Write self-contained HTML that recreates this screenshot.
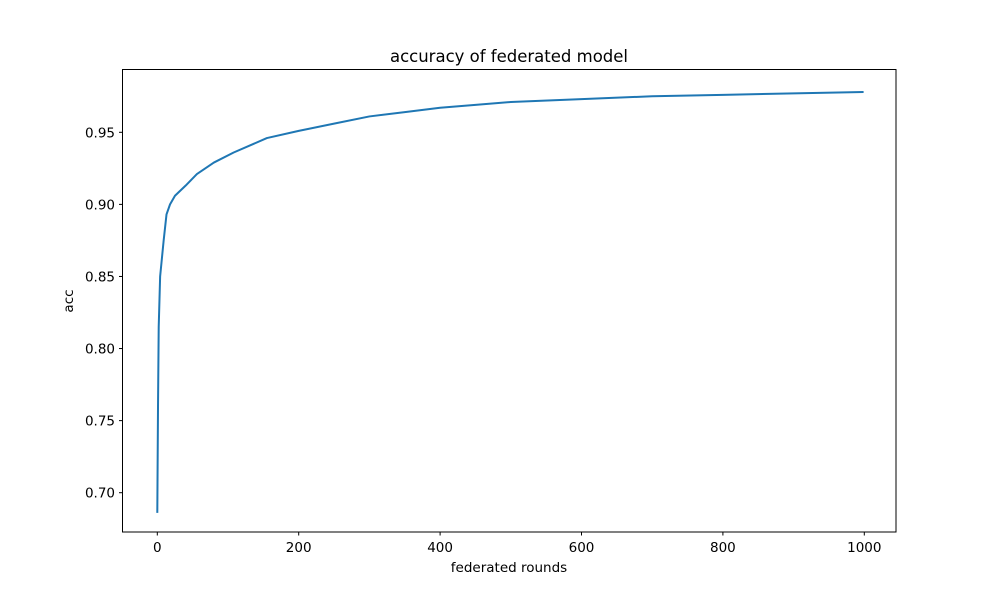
<!DOCTYPE html>
<html><head><meta charset="utf-8"><style>
body{margin:0;background:#fff;}
svg text{font-family:"DejaVu Sans","Liberation Sans",sans-serif;fill:#000;}
</style></head><body>
<svg id="chart" width="995" height="597">
<rect width="995" height="597" fill="#fff"/>
<g id="axes"></g>
<g id="plot"></g>
<rect x="122.5" y="69.5" width="773.5" height="462.5" fill="none" stroke="#000" stroke-width="1"/>
<text x="509" y="62" font-size="16.5" text-anchor="middle">accuracy of federated model</text>
<text x="509" y="572" font-size="13.5" text-anchor="middle">federated rounds</text>
<text x="0" y="0" font-size="13.5" text-anchor="middle" transform="translate(73,301) rotate(-90)">acc</text>
</svg>
<script>
const rounds=[0,1,2,4,6,9,13,18,25,40,56,80,108,155,200,250,300,350,400,450,500,600,700,800,900,999];
const accValues=[0.686,0.76,0.815,0.85,0.86,0.875,0.893,0.9,0.906,0.913,0.921,0.929,0.936,0.946,0.951,0.956,0.961,0.964,0.967,0.969,0.971,0.973,0.975,0.976,0.977,0.978];
const xTicks=[0,200,400,600,800,1000];
const yTicks=[0.70,0.75,0.80,0.85,0.90,0.95];
const yTickLabels=["0.70","0.75","0.80","0.85","0.90","0.95"];
const ns="http://www.w3.org/2000/svg";
const x0=157.3,x200=298.7;
function xs(v){return x0+(v)*(x200-x0)/200;}
function ys(v){return 492.7-(v-0.70)*(492.7-132.3)/0.25;}
const axes=document.getElementById('axes');
xTicks.forEach(t=>{
 const l=document.createElementNS(ns,'line');
 l.setAttribute('x1',xs(t));l.setAttribute('x2',xs(t));l.setAttribute('y1',532);l.setAttribute('y2',535.5);l.setAttribute('stroke','#000');
 
 
 axes.appendChild(l);
 const tx=document.createElementNS(ns,'text');
 tx.setAttribute('x',xs(t));tx.setAttribute('y',552);tx.setAttribute('font-size','13.5');tx.setAttribute('text-anchor','middle');
 tx.textContent=String(t);
 
 
 axes.appendChild(tx);
});
yTicks.forEach((t,i)=>{
 const l=document.createElementNS(ns,'line');
 l.setAttribute('x1',119);l.setAttribute('x2',122.5);l.setAttribute('y1',ys(t));l.setAttribute('y2',ys(t));l.setAttribute('stroke','#000');
 
 
 axes.appendChild(l);
 const tx=document.createElementNS(ns,'text');
 tx.setAttribute('x',115);tx.setAttribute('y',ys(t)+5);tx.setAttribute('font-size','13.5');tx.setAttribute('text-anchor','end');
 tx.textContent=yTickLabels[i];
 
 
 axes.appendChild(tx);
});
const p=document.createElementNS(ns,'path');
p.setAttribute('d',rounds.map((r,i)=>(i?'L':'M')+xs(r).toFixed(2)+','+ys(accValues[i]).toFixed(2)).join(''));
p.setAttribute('fill','none');p.setAttribute('stroke','#1f77b4');p.setAttribute('stroke-width','2');p.setAttribute('stroke-linejoin','round');


document.getElementById('plot').appendChild(p);
</script>
</body></html>
